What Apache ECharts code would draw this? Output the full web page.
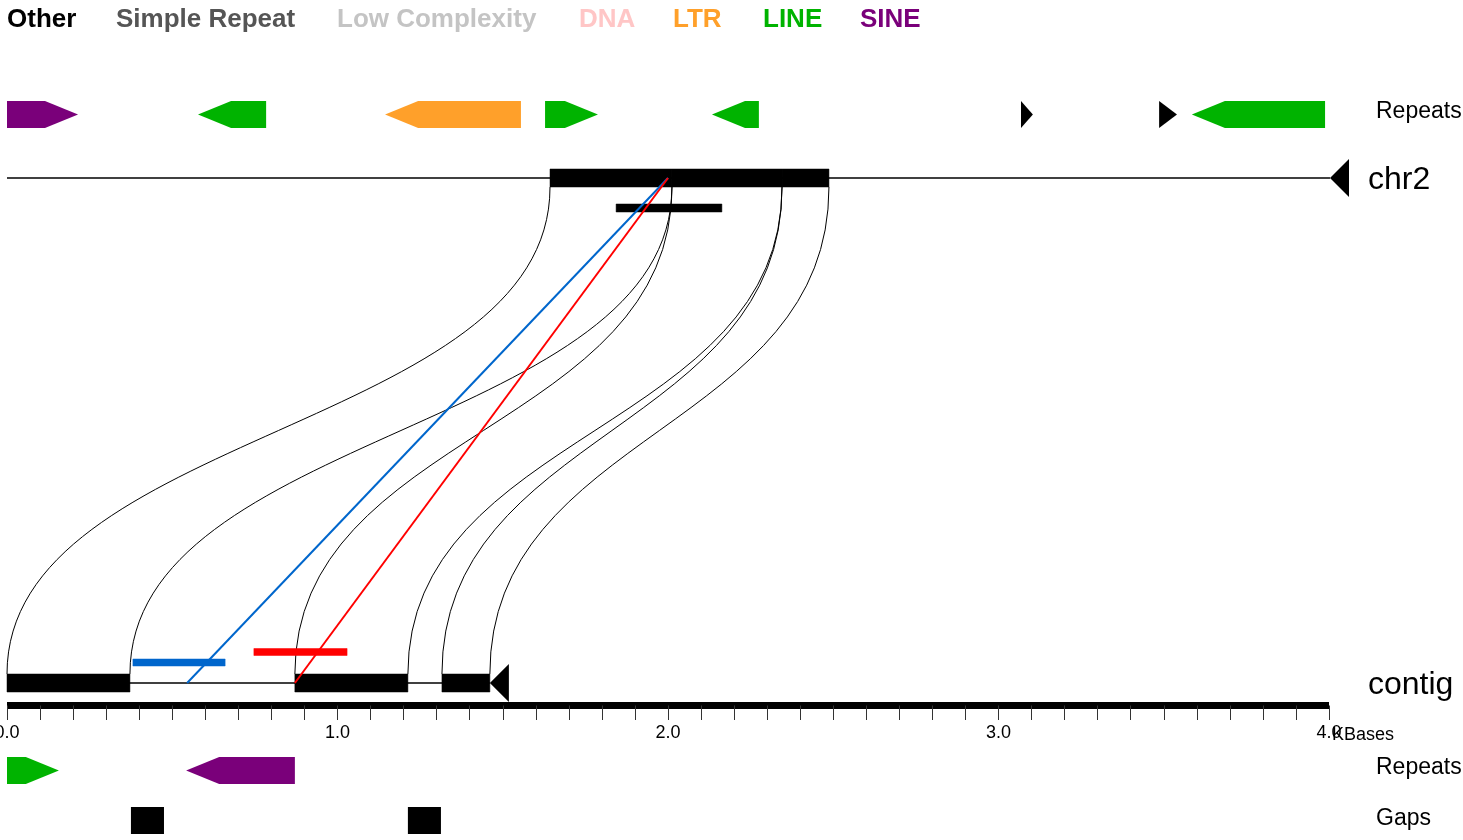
<!DOCTYPE html>
<html>
<head>
<meta charset="utf-8">
<script src="https://cdn.jsdelivr.net/npm/echarts@6/dist/echarts.min.js"></script>
<style>
html, body { margin: 0; padding: 0; background: #fff; }
#chart { width: 1463px; height: 840px; }
</style>
</head>
<body>
<div id="chart"></div>
<script>
// repeat classes, legend order
var repeatClasses = ['Other', 'Simple Repeat', 'Low Complexity', 'DNA', 'LTR', 'LINE', 'SINE'];
var repeatColors = ['#000000', '#555555', '#c4c4c4', '#ffc6c6', '#ffa02a', '#00b300', '#7a007a'];

// chr2 repeats (KBases)
var chr2RepeatStart  = [0.000, 0.578, 1.144, 1.628, 2.133, 3.068, 3.486, 3.585];
var chr2RepeatEnd    = [0.215, 0.784, 1.555, 1.788, 2.275, 3.104, 3.540, 3.988];
var chr2RepeatStrand = [1, -1, -1, 1, -1, 1, 1, -1];
var chr2RepeatClass  = [6, 5, 4, 5, 5, 0, 0, 5];

// contig repeats
var contigRepeatStart  = [0.000, 0.542];
var contigRepeatEnd    = [0.157, 0.871];
var contigRepeatStrand = [1, -1];
var contigRepeatClass  = [5, 6];

// contig gaps
var gapStart = [0.375, 1.213];
var gapEnd   = [0.475, 1.313];

// aligned blocks, contig -> chr2
var contigBlockStart = [0.000, 0.871, 1.316];
var contigBlockEnd   = [0.372, 1.213, 1.461];
var chr2BlockStart   = [1.643, 2.012, 2.345];
var chr2BlockEnd     = [2.012, 2.345, 2.487];

var contigLength = 1.461;
var chr2Length = 4.003;

// probe hits
var probeContigPos   = [0.545, 0.871];
var probeChr2Pos     = [2.0, 2.0];
var probeContigStart = [0.381, 0.747];
var probeContigEnd   = [0.660, 1.029];
var probeColors      = ['#0066cc', '#ff0000'];
var chr2ProbeStart = [1.843];
var chr2ProbeEnd   = [2.163];

// track rows (pixels from top, y axis is 1:1)
var Y_CHR2_REP = 114.5, Y_CHR2 = 178, Y_CHR2_PROBE = 208;
var Y_CONTIG = 683, Y_CONTIG_PROBE = [662.5, 652];
var Y_CONTIG_REP = 770.5, Y_GAPS = 820.5;
var REP_H = 27, BLOCK_H = 18, HEAD_KB = 0.1;

var chart = echarts.init(document.getElementById('chart'));

function arrowItem(yc) {
    return function (params, api) {
        var s = api.value(0), e = api.value(1), strand = api.value(2), cls = api.value(3);
        var p0 = api.coord([s, yc]), p1 = api.coord([e, yc]);
        var head = api.size([HEAD_KB, 0])[0];
        var x0 = p0[0], x1 = p1[0], y = p0[1], t = y - REP_H / 2, b = y + REP_H / 2;
        var pts;
        if (x1 - x0 <= head) {
            pts = strand > 0 ? [[x0, t], [x1, y], [x0, b]] : [[x1, t], [x0, y], [x1, b]];
        } else if (strand > 0) {
            pts = [[x0, t], [x1 - head, t], [x1, y], [x1 - head, b], [x0, b]];
        } else {
            pts = [[x1, t], [x0 + head, t], [x0, y], [x0 + head, b], [x1, b]];
        }
        return { type: 'polygon', shape: { points: pts }, style: { fill: repeatColors[cls] } };
    };
}

function rectItem(yc, h, color) {
    return function (params, api) {
        var p0 = api.coord([api.value(0), yc]), p1 = api.coord([api.value(1), yc]);
        return {
            type: 'rect',
            shape: { x: p0[0], y: p0[1] - h / 2, width: p1[0] - p0[0], height: h },
            style: { fill: color, stroke: color, lineWidth: 0.5 }
        };
    };
}

function trackItem(yc) {
    return function (params, api) {
        var p0 = api.coord([0, yc]), p1 = api.coord([api.value(0), yc]);
        return {
            type: 'group',
            children: [
                { type: 'line', shape: { x1: p0[0], y1: p0[1], x2: p1[0], y2: p1[1] },
                  style: { stroke: '#000', lineWidth: 1.3 } },
                { type: 'polygon', shape: { points: [[p1[0], p1[1]], [p1[0] + 19, p1[1] - 19], [p1[0] + 19, p1[1] + 19]] },
                  style: { fill: '#000' } }
            ]
        };
    };
}

function zip() {
    var arrs = Array.prototype.slice.call(arguments);
    return arrs[0].map(function (_, i) { return arrs.map(function (a) { return a[i]; }); });
}

var curveData = [];
for (var i = 0; i < contigBlockStart.length; i++) {
    curveData.push([contigBlockStart[i], chr2BlockStart[i]]);
    curveData.push([contigBlockEnd[i], chr2BlockEnd[i]]);
}

var graphics = [];
var legendX = [7, 116, 337, 579, 673, 763, 860];
repeatClasses.forEach(function (name, i) {
    graphics.push({ type: 'text', x: legendX[i], y: 20,
        style: { text: name, fill: repeatColors[i], font: 'bold 26px "Liberation Sans", Arial, sans-serif',
                 verticalAlign: 'middle' } });
});
[['Repeats', 1376, 112, 23], ['chr2', 1368, 180, 32], ['contig', 1368, 685, 32],
 ['Repeats', 1376, 768, 23], ['Gaps', 1376, 819, 23], ['KBases', 1332, 735, 18]].forEach(function (t) {
    graphics.push({ type: 'text', x: t[1], y: t[2],
        style: { text: t[0], fill: '#000', font: t[3] + 'px "Liberation Sans", Arial, sans-serif',
                 verticalAlign: 'middle' } });
});

var option = {
    animation: false,
    backgroundColor: '#fff',
    grid: { left: 7, right: 134, top: 0, bottom: 134.5, containLabel: false, outerBoundsMode: 'none' },
    xAxis: {
        type: 'value', min: 0, max: 4, interval: 0.1,
        axisLine: { onZero: false, lineStyle: { color: '#000', width: 7, cap: 'butt' } },
        axisTick: { length: 14.5, lineStyle: { color: '#333', width: 1 } },
        axisLabel: {
            margin: 19, fontSize: 18, color: '#000', fontFamily: 'Liberation Sans',
            formatter: function (v) {
                return Math.abs(v - Math.round(v)) < 1e-6 ? Math.round(v).toFixed(1) : '';
            }
        },
        splitLine: { show: false }
    },
    yAxis: { type: 'value', min: 0, max: 705.5, inverse: true, show: false },
    graphic: graphics,
    series: [
        { type: 'custom', name: 'links', clip: false, data: curveData,
          renderItem: function (params, api) {
              var a = api.coord([api.value(0), Y_CONTIG - BLOCK_H / 2]);
              var b = api.coord([api.value(1), Y_CHR2 + BLOCK_H / 2]);
              var ym = (a[1] + b[1]) / 2;
              return { type: 'bezierCurve',
                       shape: { x1: a[0], y1: a[1], cpx1: a[0], cpy1: ym, cpx2: b[0], cpy2: ym, x2: b[0], y2: b[1] },
                       style: { stroke: '#000', lineWidth: 1, fill: null } };
          } },
        { type: 'custom', name: 'chr2 repeats', clip: false,
          data: zip(chr2RepeatStart, chr2RepeatEnd, chr2RepeatStrand, chr2RepeatClass),
          renderItem: arrowItem(Y_CHR2_REP) },
        { type: 'custom', name: 'chr2', clip: false, data: [[chr2Length]], renderItem: trackItem(Y_CHR2) },
        { type: 'custom', name: 'chr2 blocks', clip: false, data: zip(chr2BlockStart, chr2BlockEnd),
          renderItem: rectItem(Y_CHR2, BLOCK_H, '#000') },
        { type: 'custom', name: 'chr2 probe', clip: false, data: zip(chr2ProbeStart, chr2ProbeEnd),
          renderItem: rectItem(Y_CHR2_PROBE, 8, '#000') },
        { type: 'custom', name: 'contig', clip: false, data: [[contigLength]], renderItem: trackItem(Y_CONTIG) },
        { type: 'custom', name: 'contig blocks', clip: false, data: zip(contigBlockStart, contigBlockEnd),
          renderItem: rectItem(Y_CONTIG, BLOCK_H, '#000') },
        { type: 'custom', name: 'contig probes', clip: false, data: zip(probeContigStart, probeContigEnd),
          renderItem: function (params, api) {
              return rectItem(Y_CONTIG_PROBE[params.dataIndex], 7, probeColors[params.dataIndex])(params, api);
          } },
        { type: 'custom', name: 'contig repeats', clip: false,
          data: zip(contigRepeatStart, contigRepeatEnd, contigRepeatStrand, contigRepeatClass),
          renderItem: arrowItem(Y_CONTIG_REP) },
        { type: 'custom', name: 'gaps', clip: false, data: zip(gapStart, gapEnd),
          renderItem: function (params, api) {
              var p0 = api.coord([api.value(0), Y_GAPS]), p1 = api.coord([api.value(1), Y_GAPS]);
              return { type: 'rect', shape: { x: p0[0], y: p0[1] - REP_H / 2, width: p1[0] - p0[0], height: REP_H },
                       style: { fill: '#000' } };
          } },
        { type: 'custom', name: 'probe lines', clip: false, data: zip(probeContigPos, probeChr2Pos),
          renderItem: function (params, api) {
              var a = api.coord([api.value(0), Y_CONTIG]), b = api.coord([api.value(1), Y_CHR2]);
              return { type: 'line', shape: { x1: a[0], y1: a[1], x2: b[0], y2: b[1] },
                       style: { stroke: probeColors[params.dataIndex], lineWidth: 2 } };
          } }
    ]
};
chart.setOption(option);
</script>
</body>
</html>
